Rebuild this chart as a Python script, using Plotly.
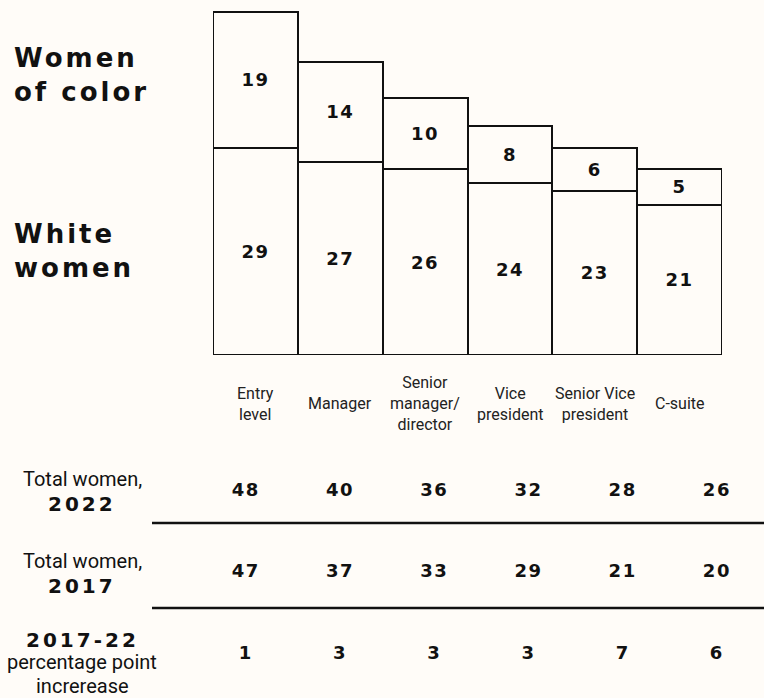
import plotly.graph_objects as go

# ---------------- data ----------------
categories = ["Entry level", "Manager", "Senior manager/director",
              "Vice president", "Senior Vice president", "C-suite"]
category_labels = ["Entry<br>level", "Manager", "Senior<br>manager/<br>director",
                   "Vice<br>president", "Senior Vice<br>president", "C-suite"]
white_women = [29, 27, 26, 24, 23, 21]
women_of_color = [19, 14, 10, 8, 6, 5]
total_2022 = [48, 40, 36, 32, 28, 26]
total_2017 = [47, 37, 33, 29, 21, 20]
pp_increase = [1, 3, 3, 3, 7, 6]
row_keys = ["2022", "2017", "change"]

# ---------------- styles ----------------
BG = "#FFFCF8"
INK = "#111111"
WIDE = "DejaVu Sans"
NARROW = "Roboto"


def sp(txt, ls):
    return f"<span style='letter-spacing:{ls}px'>{txt}</span>"


num_tmpl = "<span style='letter-spacing:1.5px'>%{text}</span>"

fig = go.Figure()

fig.add_trace(go.Bar(
    x=categories, y=white_women, name="White women",
    marker=dict(color=BG, line=dict(color=INK, width=2)),
    text=white_women, texttemplate=num_tmpl,
    textposition="inside", insidetextanchor="middle", textangle=0,
    textfont=dict(family=WIDE, size=18, color=INK, weight="bold"),
    constraintext="none", hoverinfo="skip",
))
fig.add_trace(go.Bar(
    x=categories, y=women_of_color, name="Women of color",
    marker=dict(color=BG, line=dict(color=INK, width=2)),
    text=women_of_color, texttemplate=num_tmpl,
    textposition="inside", insidetextanchor="middle", textangle=0,
    textfont=dict(family=WIDE, size=18, color=INK, weight="bold"),
    constraintext="none", hoverinfo="skip",
))

# table rows
for key, vals in zip(row_keys, [total_2022, total_2017, pp_increase]):
    fig.add_trace(go.Scatter(
        x=categories, y=[key] * len(vals), mode="text",
        text=[sp(v, 1.5) for v in vals],
        textfont=dict(family=WIDE, size=18, color=INK, weight="bold"),
        xaxis="x2", yaxis="y2", hoverinfo="skip", showlegend=False,
    ))

annotations = []
# category labels under bars
for c, lab in zip(categories, category_labels):
    annotations.append(dict(
        x=c, xref="x", y=1 - 404 / 698, yref="paper", text=lab,
        showarrow=False, xanchor="center", yanchor="middle", align="center",
        font=dict(family=NARROW, size=16, color="#222222"),
    ))

# left legend labels
annotations.append(dict(
    x=12 / 764, xref="paper", y=1 - 75 / 698, yref="paper",
    text=sp("Women", 3) + "<br>" + sp("of color", 3),
    showarrow=False, xanchor="left", yanchor="middle", align="left",
    font=dict(family=WIDE, size=26, color=INK, weight="bold"),
))
annotations.append(dict(
    x=12 / 764, xref="paper", y=1 - 251 / 698, yref="paper",
    text=sp("White", 3) + "<br>" + sp("women", 3),
    showarrow=False, xanchor="left", yanchor="middle", align="left",
    font=dict(family=WIDE, size=26, color=INK, weight="bold"),
))

# row labels
row_text = [
    ("Total women,", 479, NARROW, 20, "normal", 0),
    ("2022", 504, WIDE, 20, "bold", 3),
    ("Total women,", 561, NARROW, 20, "normal", 0),
    ("2017", 586, WIDE, 20, "bold", 3),
    ("2017-22", 640, WIDE, 20, "bold", 3),
    ("percentage point", 662, NARROW, 20, "normal", 0),
    ("increrease", 686, NARROW, 20, "normal", 0),
]
for txt, ypx, fam, size, wt, ls in row_text:
    annotations.append(dict(
        x=82 / 764, xref="paper", y=1 - ypx / 698, yref="paper",
        text=sp(txt, ls) if ls else txt,
        showarrow=False, xanchor="center", yanchor="middle",
        font=dict(family=fam, size=size, color=INK, weight=wt),
    ))

shapes = []
for ypx in (523, 608):
    shapes.append(dict(
        type="line", xref="paper", yref="paper",
        x0=152 / 764, x1=1.0, y0=1 - ypx / 698, y1=1 - ypx / 698,
        line=dict(color=INK, width=2.5),
    ))

fig.update_layout(
    width=764, height=698, autosize=False,
    margin=dict(l=0, r=0, t=0, b=0, pad=0),
    paper_bgcolor=BG, plot_bgcolor=BG,
    barmode="stack", bargap=0, showlegend=False,
    xaxis=dict(domain=[213 / 764, 722 / 764], type="category",
               categoryorder="array", categoryarray=categories,
               showticklabels=False, showgrid=False, zeroline=False,
               showline=False, ticks=""),
    yaxis=dict(domain=[1 - 355 / 698, 1.0], range=[0, 355 / 7.152],
               showticklabels=False, showgrid=False, zeroline=False,
               showline=False, ticks=""),
    xaxis2=dict(domain=[0.26, 1.0], type="category", anchor="y2",
                categoryorder="array", categoryarray=categories,
                range=[-0.5, 5.5],
                showticklabels=False, showgrid=False, zeroline=False,
                showline=False, ticks=""),
    yaxis2=dict(domain=[1 - 694.75 / 698, 1 - 450.25 / 698], type="category",
                anchor="x2", categoryorder="array", categoryarray=row_keys,
                range=[2.5, -0.5],
                showticklabels=False, showgrid=False, zeroline=False,
                showline=False, ticks=""),
    annotations=annotations, shapes=shapes,
    hovermode=False,
)

fig.write_html(
    "out.html",
    config={"displayModeBar": False, "staticPlot": True},
    post_script="document.body.style.margin='0';document.body.style.background='" + BG + "';",
)
